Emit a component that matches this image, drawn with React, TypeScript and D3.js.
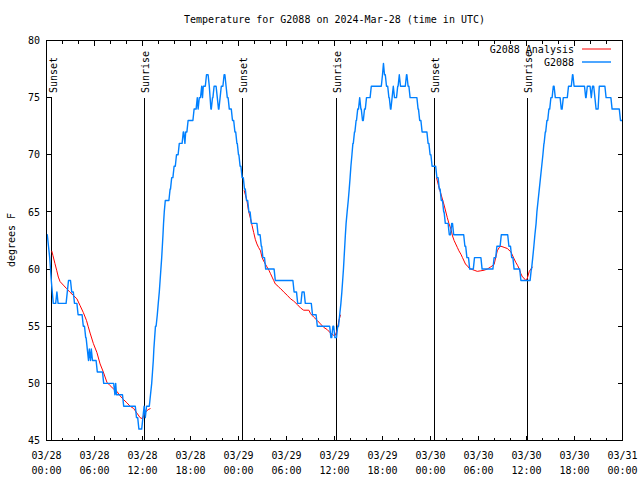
import React from 'react';
import * as d3 from 'd3';

// ---- data (hours since 03/28 00:00 UTC, degrees F) ----
const observedG2088: [number, number][] = [
  [0.05,63],[0.25,62],[0.4,61],[0.5,60],[0.6,59],[0.72,58],[0.85,57],[1.3,58],[1.45,57],[2.6,58],[2.75,59],[3.15,58],[3.5,57],[3.95,56],[4.6,55],[4.9,54],[5.1,53],[5.25,52],[5.35,53],[5.5,52],[5.6,53],[5.75,52],[6.35,51],[7.15,50],[8.55,49],[8.65,50],[8.75,49],[9.65,48],[11.25,47],[11.55,46],[12.05,47],[12.2,48],[12.35,47],[12.5,48],[13.0,49],[13.15,50],[13.25,51],[13.35,52],[13.42,53],[13.52,54],[13.62,55],[13.85,56],[13.97,57],[14.1,58],[14.2,59],[14.3,60],[14.4,61],[14.48,62],[14.56,63],[14.63,64],[14.72,65],[14.85,66],[15.45,67],[15.65,68],[15.95,69],[16.25,70],[16.6,71],[17.1,72],[17.3,71],[17.4,72],[17.7,73],[18.45,74],[18.85,75],[18.95,74],[19.1,75],[19.4,76],[19.5,75],[19.6,76],[20.0,77],[20.35,76],[20.45,75],[20.55,74],[20.75,75],[20.95,76],[21.35,75],[21.5,74],[21.7,75],[21.85,76],[22.2,77],[22.45,76],[22.6,75],[22.85,74],[23.25,73],[23.55,72],[23.8,71],[24.0,70],[24.2,69],[24.45,68],[24.75,67],[25.0,66],[25.3,65],[25.6,64],[26.45,63],[26.85,62],[27.05,61],[27.4,60],[28.6,59],[30.95,58],[31.4,57],[31.95,58],[32.35,57],[33.25,56],[33.85,55],[35.55,54],[35.8,55],[36.05,54],[36.4,55],[36.65,56],[36.8,57],[36.92,58],[37.02,59],[37.12,60],[37.2,61],[37.28,62],[37.36,63],[37.45,64],[37.58,65],[37.72,66],[37.84,67],[37.95,68],[38.05,69],[38.18,70],[38.3,71],[38.5,72],[38.7,73],[38.9,74],[39.15,75],[39.3,74],[39.5,73],[39.75,74],[40.0,75],[40.6,76],[42.0,77],[42.12,78],[42.25,77],[42.5,76],[42.8,75],[43.0,74],[43.2,75],[43.35,76],[43.5,75],[43.9,76],[44.1,77],[44.25,76],[45.0,77],[45.2,76],[45.45,75],[46.45,74],[46.65,73],[46.95,72],[47.7,71],[47.95,70],[48.2,69],[48.8,68],[49.1,67],[49.35,66],[49.65,65],[49.85,64],[50.35,63],[50.65,64],[50.9,63],[52.3,62],[52.55,61],[52.9,60],[53.5,61],[54.45,60],[55.95,61],[56.3,62],[56.85,63],[57.8,62],[58.15,61],[58.45,60],[58.9,60],[59.3,59],[60.6,60],[60.78,61],[60.92,62],[61.05,63],[61.2,64],[61.3,65],[61.45,66],[61.6,67],[61.75,68],[61.9,69],[62.05,70],[62.18,71],[62.35,72],[62.55,73],[62.8,74],[63.05,75],[63.35,76],[63.6,75],[64.35,74],[64.6,75],[65.25,76],[65.75,77],[65.95,76],[67.4,75],[67.6,76],[68.1,75],[68.25,76],[68.55,75],[68.7,74],[69.1,76],[69.95,75],[70.7,74],[71.75,73],[72,73]
];

const analysisNight1: [number, number][] = [
  [0.65,61.6],[0.8,61.2],[1.05,60.5],[1.27,59.9],[1.48,59.3],[1.7,58.9],[2.1,58.6],[2.5,58.3],[2.9,58.0],[3.35,57.7],[3.8,57.4],[4.2,56.8],[4.6,56.2],[5.0,55.5],[5.2,55.0],[5.45,54.4],[5.85,53.5],[6.3,52.7],[6.7,51.7],[7.1,51.0],[7.55,50.1],[7.95,49.8],[8.4,49.5],[8.8,49.3],[9.2,48.9],[9.6,48.6],[10.05,48.3],[10.45,48.0],[10.9,47.8],[11.3,47.4],[11.7,47.0],[12.0,46.9],[12.15,47.2],[12.4,47.5],[12.7,47.7],[13.0,47.8]
];
const analysisNight2: [number, number][] = [
  [24.7,66.9],[25.05,66.0],[25.25,65.1],[25.5,64.4],[25.7,63.8],[25.9,63.2],[26.1,62.6],[26.3,62.2],[26.5,61.9],[26.75,61.6],[26.95,61.0],[27.15,60.7],[27.55,60.2],[27.8,59.9],[28.0,59.6],[28.2,59.3],[28.4,59.0],[28.6,58.7],[28.8,58.6],[29.05,58.4],[29.25,58.3],[29.65,58.0],[30.1,57.7],[30.5,57.4],[30.9,57.2],[31.35,56.9],[31.75,56.6],[32.15,56.4],[32.8,56.4],[33.0,56.1],[33.4,55.8],[33.85,55.5],[34.25,55.2],[34.65,54.9],[35.1,54.7],[35.5,54.4],[35.9,54.2],[36.1,54.2],[36.35,54.7],[36.55,55.5],[36.75,56.0]
];
const analysisNight3: [number, number][] = [
  [48.75,68.0],[49.0,67.3],[49.25,66.7],[49.7,65.6],[50.1,64.5],[50.3,64.0],[50.55,63.5],[50.75,62.9],[50.95,62.5],[51.15,62.2],[51.35,61.9],[51.55,61.6],[51.8,61.3],[52.0,61.0],[52.2,60.7],[52.4,60.4],[52.6,60.3],[52.8,60.1],[53.05,60.0],[53.45,59.9],[53.85,59.8],[54.3,59.85],[54.7,59.9],[55.1,60.0],[55.55,60.2],[55.95,60.4],[56.15,61.0],[56.35,61.6],[56.6,61.9],[56.8,62.0],[57.2,61.9],[57.6,61.8],[58.05,61.5],[58.45,60.9],[58.65,60.6],[58.9,60.3],[59.1,60.0],[59.3,59.6],[59.5,59.3],[59.7,59.2],[59.9,59.0],[60.1,59.2],[60.35,59.8],[60.55,60.0],[60.75,60.2]
];

const sunsetHours = [0.63, 24.48, 48.48];
const sunriseHours = [12.2, 36.19, 60.1];

const xTickHours = [0, 6, 12, 18, 24, 30, 36, 42, 48, 54, 60, 66, 72];
const xTickDates = ['03/28','03/28','03/28','03/28','03/29','03/29','03/29','03/29','03/30','03/30','03/30','03/30','03/31'];
const xTickTimes = ['00:00','06:00','12:00','18:00','00:00','06:00','12:00','18:00','00:00','06:00','12:00','18:00','00:00'];
const xMinorHours = d3.range(0, 73, 2);
const yTicks = [45, 50, 55, 60, 65, 70, 75, 80];

const FONT = '"DejaVu Sans Mono", monospace';
const BLUE = '#0080ff';
const RED = '#ff0000';

export default function App() {
  const left = 46.5, right = 622.5, top = 40.5, bottom = 440.5;
  const x = d3.scaleLinear().domain([0, 72]).range([left, right]);
  const y = d3.scaleLinear().domain([45, 80]).range([bottom, top]);

  // observations hold their value until the next reading; each change is drawn
  // as a short ramp (one sampling interval wide), like a line through 5-min samples
  const rampPx = 1.2;
  const obsPath = (() => {
    const p = d3.path();
    observedG2088.forEach((d, i) => {
      const px = x(d[0]), py = y(d[1]);
      if (i === 0) { p.moveTo(px, py); return; }
      const prev = observedG2088[i - 1];
      const ppx = x(prev[0]), ppy = y(prev[1]);
      const holdTo = Math.max(ppx, px - rampPx);
      if (holdTo > ppx) p.lineTo(holdTo, ppy);
      p.lineTo(px, py);
    });
    return p.toString();
  })();
  const smoothLine = d3.line<[number, number]>().x(d => x(d[0])).y(d => y(d[1]));

  return (
    <svg width={640} height={480} style={{ position: 'absolute', left: 0, top: 0, background: '#fff' }}
      fontFamily={FONT} fontSize={10}>
      <rect x={0} y={0} width={640} height={480} fill="#fff" />
      <text x={(left + right) / 2} y={23} textAnchor="middle">Temperature for G2088 on 2024-Mar-28 (time in UTC)</text>

      {yTicks.map(t => (
        <g key={'y' + t}>
          <line x1={left} x2={left + 5} y1={y(t)} y2={y(t)} stroke="#000" shapeRendering="crispEdges" />
          <line x1={right} x2={right - 5} y1={y(t)} y2={y(t)} stroke="#000" shapeRendering="crispEdges" />
          <text x={40} y={y(t) + 3.6} textAnchor="end">{t}</text>
        </g>
      ))}
      {xMinorHours.map(h => {
        const len = h % 6 === 0 ? 5 : 3;
        return (
          <g key={'xm' + h}>
            <line x1={x(h)} x2={x(h)} y1={bottom} y2={bottom - len} stroke="#000" shapeRendering="crispEdges" />
            <line x1={x(h)} x2={x(h)} y1={top} y2={top + len} stroke="#000" shapeRendering="crispEdges" />
          </g>
        );
      })}
      {xTickHours.map((h, i) => (
        <g key={'xl' + h}>
          <text x={x(h)} y={459} textAnchor="middle">{xTickDates[i]}</text>
          <text x={x(h)} y={473.5} textAnchor="middle">{xTickTimes[i]}</text>
        </g>
      ))}

      <text transform={`translate(14.6,240) rotate(-90)`} textAnchor="middle">degrees F</text>

      {sunsetHours.map(h => (
        <g key={'ss' + h}>
          <line x1={x(h)} x2={x(h)} y1={98} y2={bottom} stroke="#000" shapeRendering="crispEdges" />
          <text transform={`translate(${x(h) + 5},93) rotate(-90)`}>Sunset</text>
        </g>
      ))}
      {sunriseHours.map(h => (
        <g key={'sr' + h}>
          <line x1={x(h)} x2={x(h)} y1={98} y2={bottom} stroke="#000" shapeRendering="crispEdges" />
          <text transform={`translate(${x(h) + 5},93) rotate(-90)`}>Sunrise</text>
        </g>
      ))}

      {[analysisNight1, analysisNight2, analysisNight3].map((seg, i) => (
        <path key={'a' + i} d={smoothLine(seg) || ''} fill="none" stroke={RED} strokeWidth={1} />
      ))}
      <path d={obsPath} fill="none" stroke={BLUE} strokeWidth={1.4} strokeLinejoin="round" />

      <text x={574} y={53} textAnchor="end">G2088 Analysis</text>
      <line x1={582} x2={611} y1={49} y2={49} stroke={RED} strokeWidth={1} />
      <text x={574} y={66} textAnchor="end">G2088</text>
      <line x1={582} x2={611} y1={62} y2={62} stroke={BLUE} strokeWidth={1.4} />

      <rect x={left} y={top} width={right - left} height={bottom - top} fill="none" stroke="#000" shapeRendering="crispEdges" />
    </svg>
  );
}
